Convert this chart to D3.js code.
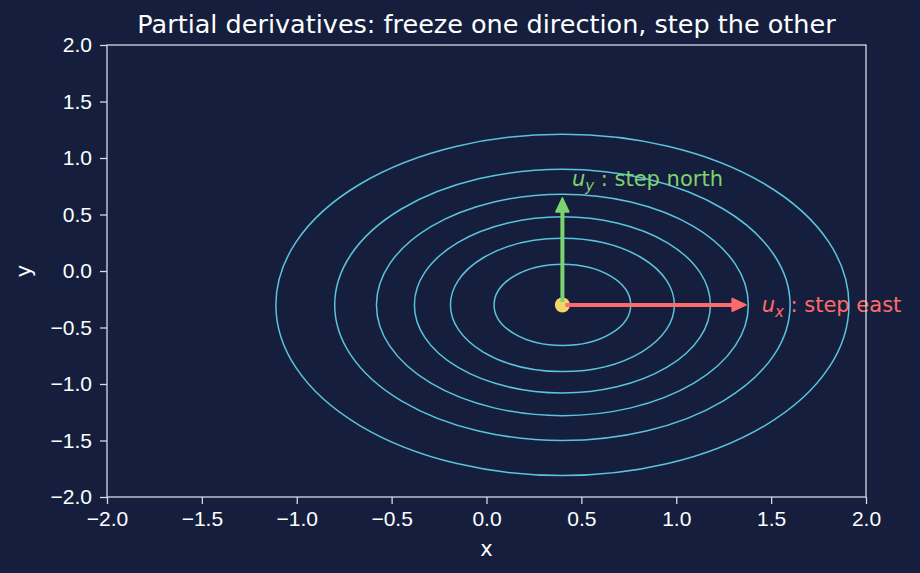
<!DOCTYPE html>
<html lang="en">
  <head>
    <meta charset="utf-8">
    <title>Partial derivatives</title>
    <style>
      body { margin: 0; background: #151f3d; }
      svg { display: block; font-family: "DejaVu Sans", sans-serif; }
      .axis path, .axis line { stroke: #d3dae6; stroke-width: 1.3; }
      .axis text { fill: #ffffff; font-size: 21px; }
      .title { fill: #ffffff; font-size: 25.5px; text-anchor: middle; }
      .label { fill: #ffffff; font-size: 21px; text-anchor: middle; }
    </style>
  </head>
  <body>
    <svg id="chart" width="920" height="573"></svg>
    <script src="https://d3js.org/d3.v7.min.js"></script>
    <script>
      // values
      const xDomain = [-2, 2];
      const yDomain = [-2, 2];
      const xTicks = [-2, -1.5, -1, -0.5, 0, 0.5, 1, 1.5, 2];
      const yTicks = [-2, -1.5, -1, -0.5, 0, 0.5, 1, 1.5, 2];
      const point = [0.4, -0.3];
      const contourRadii = [0.36, 0.59, 0.78, 0.98, 1.2, 1.51];
      const arrowEnds = [[1.4, -0.3], [0.4, 0.7]];
      const arrowColors = ["#ff6b6b", "#7fd36e"];
      const arrowLabels = ["x", "y"];
      const arrowTexts = [" : step east", " : step north"];
      const labelPos = [[1.45, -0.3], [0.45, 0.75]];

      const svg = d3.select("svg");
      const M = { left: 107, right: 54, top: 45, bottom: 76 };
      const W = 920 - M.left - M.right;
      const H = 573 - M.top - M.bottom;

      const x = d3.scaleLinear().domain(xDomain).range([0, W]);
      const y = d3.scaleLinear().domain(yDomain).range([H, 0]);

      svg.append("text")
        .attr("class", "title")
        .attr("x", M.left + W / 2)
        .attr("y", 33)
        .text("Partial derivatives: freeze one direction, step the other");

      const g = svg.append("g")
        .attr("transform", "translate(" + M.left + "," + M.top + ")");

      // contour rings around the point
      g.selectAll(".ring")
        .data(contourRadii)
        .enter()
        .append("ellipse")
        .attr("class", "ring")
        .attr("cx", x(point[0]))
        .attr("cy", y(point[1]))
        .attr("rx", r => x(point[0] + r) - x(point[0]))
        .attr("ry", r => y(point[1]) - y(point[1] + r))
        .attr("fill", "none")
        .attr("stroke", "#5bc3dd")
        .attr("stroke-width", 1.5);

      // the point
      g.append("circle")
        .attr("cx", x(point[0]))
        .attr("cy", y(point[1]))
        .attr("r", 7.5)
        .attr("fill", "#f4d56a");

      // arrows
      const shrink = 6, headL = 14, headW = 6.5;
      arrowEnds.forEach((end, i) => {
        const x0 = x(point[0]), y0 = y(point[1]);
        const x1 = x(end[0]), y1 = y(end[1]);
        const len = Math.hypot(x1 - x0, y1 - y0);
        const ux = (x1 - x0) / len, uy = (y1 - y0) / len;
        const tx = x1 - ux * shrink, ty = y1 - uy * shrink;
        const bx = tx - ux * headL, by = ty - uy * headL;
        g.append("line")
          .attr("x1", x0 + ux * 3).attr("y1", y0 + uy * 3)
          .attr("x2", bx + ux * 2).attr("y2", by + uy * 2)
          .attr("stroke", arrowColors[i])
          .attr("stroke-width", 4);
        g.append("path")
          .attr("d", "M" + tx + "," + ty +
            "L" + (bx - uy * headW) + "," + (by + ux * headW) +
            "L" + (bx + uy * headW) + "," + (by - ux * headW) + "Z")
          .attr("fill", arrowColors[i])
          .attr("stroke", arrowColors[i])
          .attr("stroke-width", 1.5)
          .attr("stroke-linejoin", "round");

        const t = g.append("text")
          .attr("x", x(labelPos[i][0]))
          .attr("y", y(labelPos[i][1]))
          .attr("dy", i === 0 ? "0.36em" : 0)
          .attr("fill", arrowColors[i])
          .style("font-size", "21px");
        t.append("tspan").style("font-style", "italic").text("u");
        t.append("tspan").style("font-style", "italic")
          .style("font-size", "15px").attr("dy", 5).text(arrowLabels[i]);
        t.append("tspan").attr("dy", -5).text(arrowTexts[i]);
      });

      // axes
      const fmt = d3.format(".1f");
      const xAxis = g.append("g")
        .attr("class", "axis")
        .attr("transform", "translate(0," + H + ")")
        .call(d3.axisBottom(x).tickValues(xTicks).tickFormat(d => fmt(d).replace("-", "\u2212"))
          .tickSizeOuter(0).tickSize(7).tickPadding(7));
      xAxis.select(".domain").remove();

      const yAxis = g.append("g")
        .attr("class", "axis")
        .call(d3.axisLeft(y).tickValues(yTicks).tickFormat(d => fmt(d).replace("-", "\u2212"))
          .tickSizeOuter(0).tickSize(7).tickPadding(8));
      yAxis.select(".domain").remove();

      // frame
      g.append("rect")
        .attr("width", W).attr("height", H)
        .attr("fill", "none")
        .attr("stroke", "#d3dae6")
        .attr("stroke-width", 1.3);

      svg.append("text")
        .attr("class", "label")
        .attr("x", M.left + W / 2)
        .attr("y", 556)
        .text("x");

      svg.append("text")
        .attr("class", "label")
        .attr("transform", "translate(31," + (M.top + H / 2) + ") rotate(-90)")
        .text("y");
    </script>
  </body>
</html>
